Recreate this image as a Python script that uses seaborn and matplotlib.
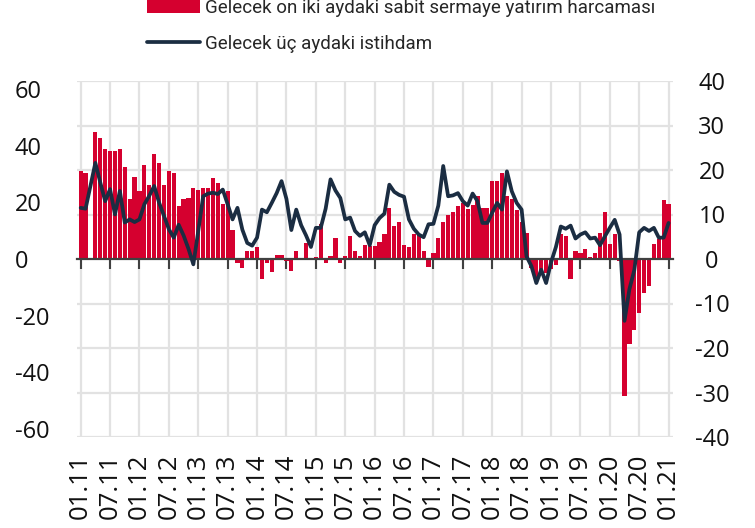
import numpy as np
import pandas as pd
import matplotlib
matplotlib.use("Agg")
import matplotlib.pyplot as plt
from matplotlib.ticker import FixedLocator
import seaborn as sns

# Monthly survey balances, Jan 2011 - Jan 2021 (March 2011 not published)
months = pd.date_range("2011-01-01", "2021-01-01", freq="MS")

capex_12m = [
    31.1, 30.3, np.nan, 44.9, 42.6, 39.0, 38.2, 38.2, 39.0, 32.5, 21.1, 29.0,
    24.0, 33.2, 26.1, 37.0, 34.0, 26.1, 31.1, 30.5, 18.7, 21.1, 21.7, 25.2,
    24.4, 25.1, 25.1, 28.7, 26.7, 19.3, 24.0, 10.1, -1.4, -3.1, 2.8, 2.8,
    4.3, -7.2, -1.5, -4.5, 1.5, 1.5, -0.8, -4.3, 2.8, 0.0, 5.8, 0.3,
    0.8, 12.2, -1.4, 1.0, 7.5, -1.4, 1.0, 8.1, 2.8, 1.0, 5.1, 4.5,
    4.5, 5.9, 8.7, 18.1, 11.6, 13.0, 5.1, 4.3, 8.7, 8.5, 2.8, -2.8,
    2.2, 7.3, 13.0, 15.7, 16.5, 18.6, 19.7, 17.6, 19.0, 22.4, 17.9, 18.1,
    27.5, 27.5, 30.3, 22.4, 21.3, 17.3, 13.0, 9.2, -3.1, -6.6, -4.3, -4.9,
    -3.5, -2.2, 8.7, 8.1, -7.2, 2.8, 2.2, 3.6, 0.8, 2.2, 9.3, 16.6,
    5.2, 8.7, -0.7, -48.5, -30.0, -25.0, -19.0, -12.0, -9.5, 5.2, 7.2, 21.0,
    19.3,
]

employment_3m = [
    11.5, 11.3, np.nan, 21.6, 17.2, 13.0, 15.7, 10.0, 15.3, 8.2, 8.9, 8.3,
    8.9, 12.3, 14.2, 16.4, 12.7, 9.7, 6.7, 4.8, 7.7, 5.3, 2.3, -1.2,
    6.3, 14.1, 14.7, 14.9, 14.6, 15.6, 12.3, 8.9, 11.5, 6.6, 3.6, 3.0,
    4.8, 11.1, 10.5, 12.6, 14.8, 17.5, 13.5, 6.5, 11.1, 7.6, 5.3, 2.7,
    7.0, 7.0, 11.3, 17.9, 15.4, 13.7, 8.9, 9.3, 6.3, 5.2, 6.0, 3.1,
    7.6, 9.2, 10.2, 16.7, 15.1, 14.4, 14.0, 8.9, 6.8, 5.5, 4.9, 7.8,
    7.9, 12.0, 20.9, 14.1, 14.3, 14.8, 13.0, 12.0, 14.7, 13.0, 8.1, 8.1,
    10.4, 12.6, 11.1, 19.7, 15.2, 12.6, 11.1, 0.6, -1.6, -5.4, -2.4, -5.4,
    -0.8, 2.7, 7.3, 6.8, 7.5, 4.6, 5.5, 6.0, 4.6, 4.8, 3.1, 5.1,
    7.0, 8.8, 5.5, -13.9, -6.8, -2.5, 6.0, 7.0, 6.3, 7.0, 4.8, 4.8,
    8.1,
]

tick_labels = [
    "01.11", "07.11", "01.12", "07.12", "01.13", "07.13", "01.14", "07.14",
    "01.15", "07.15", "01.16", "07.16", "01.17", "07.17", "01.18", "07.18",
    "01.19", "07.19", "01.20", "07.20", "01.21",
]

left_ticks = [-60, -40, -20, 0, 20, 40, 60]
right_ticks = [-40, -30, -20, -10, 0, 10, 20, 30, 40]

capex_label = "Gelecek on iki aydaki sabit sermaye yatırım harcaması"
emp_label = "Gelecek üç aydaki istihdam"

RED = "#D5002F"
NAVY = "#1B2D42"
GRID = "#E2E2E2"
AXIS = "#404040"

sns.set_theme(style="white")
plt.rcParams["font.family"] = ["Open Sans", "DejaVu Sans"]

df = pd.DataFrame({
    "pos": np.arange(len(months)),
    "capex": capex_12m,
    "emp": employment_3m,
})

W, H = 755, 528
fig = plt.figure(figsize=(W / 100, H / 100), dpi=100)
ax = fig.add_axes([77 / W, 1 - 437 / H, (673 - 77) / W, (437 - 81) / H])
ax2 = ax.twinx()

# Bars: capital expenditure expectations (left scale)
bar_df = df.dropna(subset=["capex"])
sns.barplot(data=bar_df, x="pos", y="capex", native_scale=True, color=RED,
            saturation=1, width=0.86, errorbar=None, ax=ax, label=capex_label,
            linewidth=0, zorder=2)

# Line: employment expectations (right scale)
line_df = df.dropna(subset=["emp"])
sns.lineplot(data=line_df, x="pos", y="emp", color=NAVY, linewidth=2.7,
             ax=ax2, label=emp_label, legend=False)

# Scales with the zero levels aligned
LEFT_LIM = 62.9
ax.set_ylim(-LEFT_LIM, LEFT_LIM)
ax2.set_ylim(-40, 40)
ax.set_xlim(-0.75, 120.9)

# Left axis labels
ax.set_yticks(left_ticks)
ax.set_yticklabels([str(v) for v in left_ticks])
ax.tick_params(axis="y", which="major", length=0, pad=45, labelsize=17,
               labelcolor="#111111")
for t in ax.get_yticklabels():
    t.set_horizontalalignment("left")

# Horizontal grid follows the right-hand scale
ax.yaxis.set_minor_locator(FixedLocator([r * LEFT_LIM / 40 for r in right_ticks if r != 0]))
ax.tick_params(axis="y", which="minor", length=0)
ax.grid(which="minor", axis="y", color=GRID, linewidth=1.6)

# Right axis labels
ax2.set_yticks(right_ticks)
ax2.set_yticklabels([str(v) for v in right_ticks])
ax2.tick_params(axis="y", length=0, pad=28, labelsize=17, labelcolor="#111111")
for t in ax2.get_yticklabels():
    t.set_horizontalalignment("center")
ax2.set_ylabel("")
ax2.grid(False)

# x axis: tick marks sit on the zero line, labels at the bottom
xt = list(range(0, 121, 6))
ax.set_xticks(xt)
ax.grid(which="major", axis="x", color=GRID, linewidth=1.6)
ax.grid(which="major", axis="y", visible=False)
ax.set_axisbelow(True)
ax.spines["bottom"].set_position(("data", 0))
ax.spines["bottom"].set_color(AXIS)
ax.spines["bottom"].set_linewidth(1.6)
ax.spines["bottom"].set_zorder(3)
ax.tick_params(axis="x", which="major", direction="out", length=7, width=1.5,
               color=AXIS, labelbottom=False, bottom=True)
ax.set_xlabel("")
ax.set_ylabel("")
for s in ["top", "left", "right"]:
    ax.spines[s].set_visible(False)
for s in ["top", "left", "right", "bottom"]:
    ax2.spines[s].set_visible(False)

sec = ax.secondary_xaxis(0.0)
sec.set_xticks(xt)
sec.set_xticklabels(tick_labels)
sec.tick_params(axis="x", length=0, pad=12, labelsize=18.5, labelrotation=90,
                labelcolor="#111111")
sec.spines["bottom"].set_visible(False)

# Legend above the plot
handles = ax.get_legend_handles_labels()[0] + ax2.get_legend_handles_labels()[0]
labels = [capex_label, emp_label]
if ax.get_legend() is not None:
    ax.get_legend().remove()
LEG_FS = 13.5
fig.legend(handles, labels, loc="upper left", bbox_to_anchor=(147 / W, 1 + 1 / H),
           frameon=False, borderaxespad=0, borderpad=0,
           handlelength=2.83, handleheight=0.7, handletextpad=0.27,
           labelspacing=0.95,
           prop={"family": ["Roboto", "Open Sans", "DejaVu Sans"], "size": LEG_FS})

fig.savefig("out.png", dpi=100)
